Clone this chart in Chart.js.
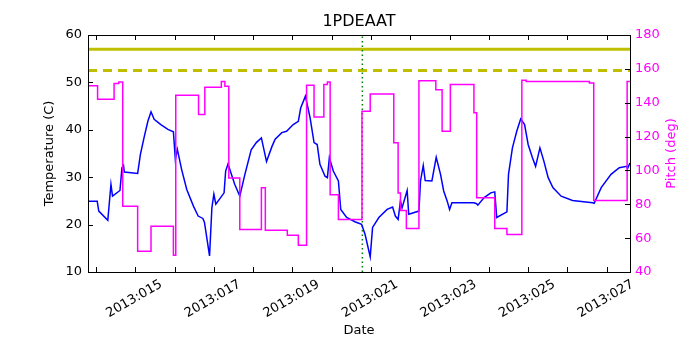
<!DOCTYPE html>
<html>
<head>
<meta charset="utf-8">
<script src="https://cdn.jsdelivr.net/npm/chart.js@4.4.0/dist/chart.umd.min.js"></script>
<style>
  body { margin: 0; background: #fff; }
</style>
</head>
<body>
<canvas id="one" width="700" height="350"></canvas>
<script>
// day of year 2013 for the temperature trace
const tempDays = [13.80, 14.03, 14.07, 14.30, 14.38, 14.42, 14.61, 14.66, 14.70, 14.72,
  15.06, 15.13, 15.23, 15.32, 15.40, 15.48, 15.65, 15.83, 15.97, 16.02, 16.07, 16.18,
  16.31, 16.48, 16.60, 16.72, 16.76, 16.89, 16.95, 17.00, 17.05, 17.26, 17.30, 17.36,
  17.53, 17.66, 17.79, 17.95, 18.08, 18.21, 18.34, 18.48, 18.56, 18.73, 18.85, 19.02,
  19.15, 19.21, 19.33, 19.45, 19.55, 19.63, 19.70, 19.83, 19.89, 19.94, 20.04, 20.17,
  20.23, 20.38, 20.59, 20.76, 20.85, 20.98, 21.04, 21.20, 21.41, 21.55, 21.62, 21.69,
  21.75, 21.79, 21.92, 21.96, 22.22, 22.26, 22.33, 22.38, 22.55, 22.66, 22.77, 22.85,
  22.94, 23.00, 23.06, 23.62, 23.69, 23.72, 23.88, 24.05, 24.15, 24.20, 24.46, 24.50,
  24.60, 24.71, 24.81, 24.91, 25.00, 25.11, 25.19, 25.30, 25.40, 25.51, 25.63, 25.84,
  26.13, 26.64, 26.68, 26.86, 27.11, 27.32, 27.51, 27.53, 27.59]
const tempValues = [24.95, 24.95, 22.85, 20.9, 28.5, 26.0, 27.2, 32.0, 32.5, 31.1,
  30.8, 34.8, 38.6, 41.8, 43.8, 42.2, 41.1, 40.1, 39.6, 33.7, 35.9, 31.6,
  27.4, 23.9, 21.8, 21.3, 20.5, 13.4, 23.6, 26.4, 24.3, 26.7, 31.3, 32.8,
  28.5, 26.0, 30.6, 35.8, 37.3, 38.3, 33.3, 36.5, 38.0, 39.4, 39.7, 41.1,
  41.8, 44.6, 47.1, 42.5, 37.3, 36.9, 32.7, 30.2, 29.9, 34.1, 31.3, 29.2,
  23.2, 21.5, 20.6, 20.05, 17.9, 13.2, 19.4, 21.5, 23.2, 23.7, 21.8, 21.1,
  25.0, 23.5, 27.2, 22.2, 22.85, 29.2, 32.5, 29.3, 29.2, 34.2, 30.6, 27.1,
  24.95, 23.2, 24.6, 24.6, 24.4, 24.1, 25.7, 26.7, 26.9, 21.5, 22.7, 30.6,
  36.2, 39.7, 42.3, 41.1, 36.9, 34.1, 32.3, 36.2, 33.4, 29.9, 27.8, 26.0,
  25.1, 24.6, 24.5, 27.8, 30.6, 32.0, 32.3, 31.8, 33.0]

// pitch attitude, each value holds until the next day entry
const pitchDays = [13.80, 14.04, 14.46, 14.58, 14.68, 15.06, 15.40, 15.97, 16.03, 16.61,
  16.77, 17.19, 17.28, 17.38, 17.66, 18.21, 18.31, 18.87, 19.15, 19.36, 19.55, 19.80,
  19.89, 19.96, 20.17, 20.77, 20.98, 21.58, 21.69, 21.75, 21.90, 22.22, 22.65, 22.81,
  23.02, 23.62, 23.69, 24.15, 24.46, 24.84, 24.95, 26.56, 26.67, 27.52, 27.59]
const pitchValues = [150, 142, 151.3, 152.2, 78.8, 52.3, 67, 49.9, 144.4, 133,
  149.1, 152.6, 149.7, 95.6, 65.1, 89.7, 64.7, 61.7, 55.8, 150.3, 131.6, 150.7,
  152.3, 85.7, 71, 134.9, 145.2, 116.3, 86.7, 76.3, 65.7, 153, 147.7, 123.1,
  150.7, 134, 83.8, 65.7, 62.1, 153.2, 152.6, 151.7, 82.2, 152.6, 152.6]

// limits and the "now" marker
const cautionLimit = 57
const planningLimit = 52.5
const nowDay = 20.78
const dayMin = 13.796
const dayMax = 27.593

const one = document.getElementById('one')
Chart.defaults.font.family = 'DejaVu Sans'
Chart.defaults.font.size = 13
Chart.defaults.color = '#000'

function toPoints(xs, ys){
  return xs.map(function(x, i){ return {x: x, y: ys[i]} })
}

// frame, inward ticks, rotated date labels and the right hand title (matplotlib look)
const frame = {
  id: 'frame',
  afterDatasetsDraw(chart){
    const ctx = chart.ctx
    const a = chart.chartArea
    const x = chart.scales.x, y = chart.scales.y, y2 = chart.scales.y2
    const len = 5
    ctx.save()
    ctx.strokeStyle = '#000'
    ctx.lineWidth = 1
    ctx.beginPath()
    x.ticks.forEach(function(t){
      const px = Math.round(x.getPixelForValue(t.value)) + 0.5
      ctx.moveTo(px, a.bottom); ctx.lineTo(px, a.bottom - len)
      ctx.moveTo(px, a.top); ctx.lineTo(px, a.top + len)
    })
    y.ticks.forEach(function(t){
      const py = Math.round(y.getPixelForValue(t.value)) + 0.5
      ctx.moveTo(a.left, py); ctx.lineTo(a.left + len, py)
    })
    y2.ticks.forEach(function(t){
      const py = Math.round(y2.getPixelForValue(t.value)) + 0.5
      ctx.moveTo(a.right, py); ctx.lineTo(a.right - len, py)
    })
    ctx.stroke()
    ctx.strokeRect(a.left + 0.5, a.top + 0.5, a.right - a.left, a.bottom - a.top)

    // date labels: rotated 30 deg, centred under their tick
    ctx.fillStyle = '#000'
    ctx.font = '13px "DejaVu Sans"'
    ctx.textAlign = 'center'
    ctx.textBaseline = 'middle'
    x.ticks.forEach(function(t){
      if (!t.label) return
      ctx.save()
      ctx.translate(x.getPixelForValue(t.value) - 1, a.bottom + 27)
      ctx.rotate(-Math.PI / 6)
      ctx.fillText(t.label, 0, 0)
      ctx.restore()
    })

    // right axis title reads bottom to top
    ctx.translate(672, (a.top + a.bottom) / 2)
    ctx.rotate(-Math.PI / 2)
    ctx.fillStyle = '#ff00ff'
    ctx.fillText('Pitch (deg)', 0, 0)
    ctx.restore()
  }
}

new Chart(one, {
  type: 'line',
  data: {
    datasets: [{
      label: 'Pitch',
      data: toPoints(pitchDays, pitchValues),
      yAxisID: 'y2',
      borderColor: '#ff00ff',
      borderWidth: 1.5,
      stepped: 'before',
      pointRadius: 0,
      order: 0
    }, {
      label: '1PDEAAT',
      data: toPoints(tempDays, tempValues),
      yAxisID: 'y',
      borderColor: '#0000ff',
      borderWidth: 1.5,
      pointRadius: 0,
      order: 1
    }, {
      label: 'now',
      data: [{x: nowDay, y: 10}, {x: nowDay, y: 60}],
      yAxisID: 'y',
      borderColor: '#008000',
      borderWidth: 1.5,
      borderDash: [1.5, 3],
      pointRadius: 0,
      order: 2
    }, {
      label: 'caution',
      data: [{x: dayMin, y: cautionLimit}, {x: dayMax, y: cautionLimit}],
      yAxisID: 'y',
      borderColor: '#bfbf00',
      borderWidth: 3,
      pointRadius: 0,
      order: 3
    }, {
      label: 'planning',
      data: [{x: dayMin, y: planningLimit}, {x: dayMax, y: planningLimit}],
      yAxisID: 'y',
      borderColor: '#bfbf00',
      borderWidth: 3,
      borderDash: [9, 6],
      pointRadius: 0,
      order: 4
    }]
  },
  options: {
    responsive: false,
    animation: false,
    layout: { padding: 0 },
    plugins: {
      legend: { display: false },
      tooltip: { enabled: false },
      title: {
        display: true,
        text: '1PDEAAT',
        fullSize: false,
        color: '#000',
        font: { size: 16, weight: 'normal' },
        padding: { top: 12, bottom: 3.8 }
      }
    },
    scales: {
      x: {
        type: 'linear',
        min: dayMin,
        max: dayMax,
        grid: { display: false, drawTicks: false },
        border: { display: false },
        ticks: {
          display: false,
          stepSize: 1,
          includeBounds: false,
          autoSkip: false,
          callback: function(v){
            return (Number.isInteger(v) && v % 2 === 1) ? '2013:0' + v : ''
          }
        },
        title: { display: true, text: 'Date', padding: { top: 0, bottom: 11.2 } },
        afterFit: function(s){ s.height = 78 }
      },
      y: {
        position: 'left',
        min: 10,
        max: 60,
        grid: { display: false, drawTicks: false },
        border: { display: false },
        ticks: { stepSize: 10, padding: 6 },
        title: { display: true, text: 'Temperature (C)', padding: { top: 42.2, bottom: 0 } },
        afterFit: function(s){ s.width = 88 }
      },
      y2: {
        position: 'right',
        min: 40,
        max: 180,
        grid: { display: false, drawTicks: false },
        border: { display: false },
        ticks: { stepSize: 20, padding: 5, color: '#ff00ff' },
        afterFit: function(s){ s.width = 70 }
      }
    }
  },
  plugins: [frame]
})
</script>
</body>
</html>
